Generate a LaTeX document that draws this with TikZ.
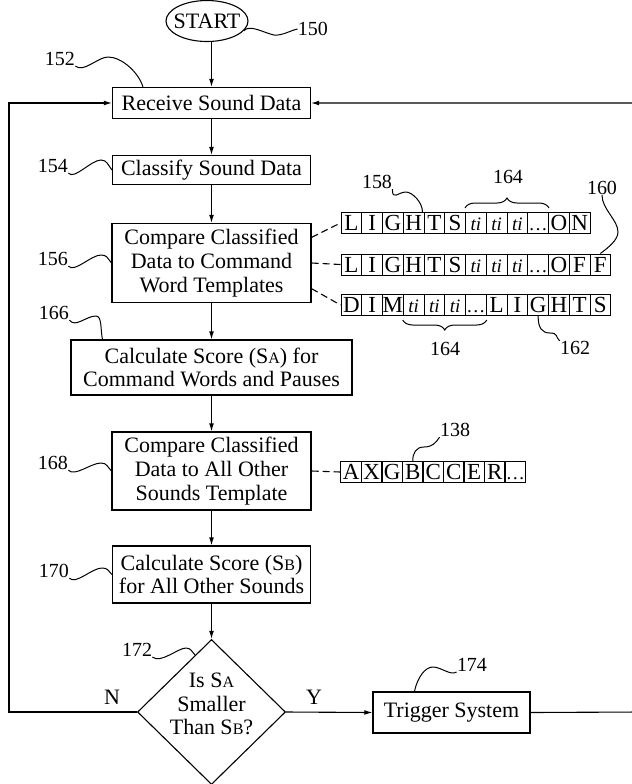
\documentclass[tikz,border=0pt]{standalone}
\usepackage{fontspec}
\setmainfont{Liberation Serif}
\usetikzlibrary{arrows.meta,positioning,shapes.geometric,decorations.pathreplacing,calc}
\newcommand{\tiMark}{{\fontsize{9.5}{9.5}\selectfont\itshape ti}}
\newcommand{\gapMark}{{\fontsize{9.5}{9.5}\selectfont\ldots}}
\newcommand{\subCap}[1]{{\fontsize{8}{8}\selectfont #1}}

\begin{document}
\begin{tikzpicture}[
        x=0.5pt,y=-0.5pt,
        every node/.style={font=\fontsize{11}{11.8}\selectfont},
        stepBox/.style={draw,line width=0.55pt,align=center,inner sep=0pt},
        cellBox/.style={draw,line width=0.5pt,minimum width=10.375pt,minimum height=10.5pt,inner sep=0pt,text height=7.6pt,text depth=0pt,font=\fontsize{11.5}{11.5}\selectfont},
        refNum/.style={inner sep=0pt,font=\fontsize{10}{10}\selectfont},
        flowEdge/.style={line width=0.55pt,-{Latex[length=4pt,width=2.4pt]}},
        dashEdge/.style={line width=0.55pt,dash pattern=on 3.5pt off 2pt},
        leadEdge/.style={line width=0.5pt},
        braceEdge/.style={line width=0.5pt,decorate,decoration={brace,amplitude=5pt,raise=2pt}}]
        \useasboundingbox (0,0) rectangle (632,784);
        \clip (0,0) rectangle (632,784);
        % flow chart column
        \node[draw,ellipse,line width=0.55pt,inner xsep=-3pt,inner ysep=1pt,minimum width=41pt,minimum height=20.5pt] (start) at (207,21) {START};
        \node[stepBox,minimum width=99pt,minimum height=15.5pt] (recv) at (211.5,103) {Receive Sound Data};
        \node[stepBox,minimum width=99pt,minimum height=14.5pt] (clsf) at (211.5,170) {Classify Sound Data};
        \node[stepBox,minimum width=99.5pt,minimum height=39.5pt] (cmpw) at (211.5,263) {Compare Classified\\Data to Command\\Word Templates};
        \node[stepBox,minimum width=140.5pt,minimum height=27.5pt] (scra) at (211.5,367.5) {Calculate Score (S\subCap{A}) for\\Command Words and Pauses};
        \node[stepBox,minimum width=99.5pt,minimum height=39pt] (cmpo) at (211.5,471) {Compare Classified\\Data to All Other\\Sounds Template};
        \node[stepBox,minimum width=99pt,minimum height=28.5pt] (scrb) at (211.5,574.5) {Calculate Score (S\subCap{B})\\for All Other Sounds};
        \node[draw,diamond,line width=0.55pt,inner sep=0pt,minimum width=74pt,minimum height=72.5pt] (dec) at (211.5,712) {};
        \node[align=center,inner sep=0pt] (decTxt) at (211.5,704) {Is S\subCap{A}\\Smaller\\Than S\subCap{B}?};
        \node[stepBox,minimum width=78.5pt,minimum height=20.5pt] (trig) at (451.5,712.5) {Trigger System};
        \node (nLbl) at (112,697) {N};
        \node (yLbl) at (314,697) {Y};
        \coordinate (lftTurn) at (9,712);
        \coordinate (rgtTurn) at (640,712);
        \draw[flowEdge] (recv.north |- start.south) -- (recv.north);
        \draw[flowEdge] (recv.south) -- (clsf.north);
        \draw[flowEdge] (clsf.south) -- (cmpw.north);
        \draw[flowEdge] (cmpw.south) -- (scra.north);
        \draw[flowEdge] (scra.south) -- (cmpo.north);
        \draw[flowEdge] (cmpo.south) -- (scrb.north);
        \draw[flowEdge] (scrb.south) -- (dec.north);
        \draw[flowEdge] (dec.east) -- (trig.west);
        \draw[flowEdge] (dec.west) -- (lftTurn) |- (recv.west);
        \draw[flowEdge] (trig.east) -- (rgtTurn) |- (recv.east);
        % template strings
        \foreach \c [count=\i] in {L,I,G,H,T,S,\tiMark,\tiMark,\tiMark,\gapMark,O,N}
          \node[cellBox] (a\i) at ({341+20.75*(\i-0.5)},223) {\c};
        \foreach \c [count=\i] in {L,I,G,H,T,S,\tiMark,\tiMark,\tiMark,\gapMark,O,F,F}
          \node[cellBox] (b\i) at ({341+20.75*(\i-0.5)},264.5) {\c};
        \foreach \c [count=\i] in {D,I,M,\tiMark,\tiMark,\tiMark,\gapMark,L,I,G,H,T,S}
          \node[cellBox] (c\i) at ({341+20.75*(\i-0.5)},305) {\c};
        \foreach \c [count=\i] in {A,X,G,B,C,C,E,R,\gapMark}
          \node[cellBox] (d\i) at ({341+20.5*(\i-0.5)},472) {\c};
        \draw[dashEdge] ($(cmpw.north east)!0.18!(cmpw.south east)$) -- (a1.west);
        \draw[dashEdge] (cmpw.east) -- (b1.west);
        \draw[dashEdge] ($(cmpw.north east)!0.82!(cmpw.south east)$) -- (c1.west);
        \draw[dashEdge] (cmpo.east) -- (d1.west);
        \draw[braceEdge] (a7.north west) -- (a10.north east);
        \draw[braceEdge] (c7.south east) -- (c4.south west);
        % reference numerals
        \node[refNum] (l150) at (313,29) {150};
        \node[refNum] (l152) at (60,59) {152};
        \node[refNum] (l154) at (53,166) {154};
        \node[refNum] (l156) at (53,259) {156};
        \node[refNum] (l158) at (377,182) {158};
        \node[refNum] (l164a) at (508,177) {164};
        \node[refNum] (l160) at (602,188) {160};
        \node[refNum] (l164b) at (445,349) {164};
        \node[refNum] (l162) at (575,348) {162};
        \node[refNum] (l166) at (54,313) {166};
        \node[refNum] (l168) at (53,463) {168};
        \node[refNum] (l138) at (455,430) {138};
        \node[refNum] (l170) at (54,571) {170};
        \node[refNum] (l172) at (137,650) {172};
        \node[refNum] (l174) at (472,665) {174};
        \draw[leadEdge] (start.-15) .. controls +(6,-7) and +(-10,-2) .. (274,35) .. controls +(8,1) and +(-6,1) .. (l150.west);
        \draw[leadEdge] (l152.south east) .. controls +(8,7) and +(-10,0) .. (108,57) .. controls +(14,0) and +(-4,-14) .. ($(recv.north west)+(31,0)$);
        \draw[leadEdge] (l154.south east) .. controls +(6,7) and +(-10,0) .. (101,160) .. controls +(6,0) and +(-4,-5) .. (clsf.west);
        \draw[leadEdge] (l156.south east) .. controls +(6,7) and +(-10,0) .. (101,255) .. controls +(6,0) and +(-4,-5) .. (cmpw.west);
        \draw[leadEdge] (l166.south east) .. controls +(6,8) and +(-10,0) .. (96,316) .. controls +(6,0) and +(-2,-10) .. ($(scra.north west)+(32,0)$);
        \draw[leadEdge] (l168.south east) .. controls +(6,7) and +(-10,0) .. (101,463) .. controls +(6,0) and +(-4,-4) .. (cmpo.west);
        \draw[leadEdge] (l170.south east) .. controls +(6,7) and +(-10,0) .. (102,568) .. controls +(6,0) and +(-4,-4) .. (scrb.west);
        \draw[leadEdge] (l172.south east) .. controls +(8,7) and +(-8,0) .. (186,648) .. controls +(5,0) and +(-3,-3) .. ($(dec.north)!0.22!(dec.west)$);
        \draw[leadEdge] ($(trig.north west)+(42,0)$) .. controls +(3,-14) and +(-8,0) .. (433,667) .. controls +(8,0) and +(-6,4) .. (l174.south west);
        \draw[leadEdge] (l158.south east) .. controls +(0,12) and +(-8,0) .. (406,192) .. controls +(6,0) and +(0,-10) .. ($(a4.north east)+(-2,0)$);
        \draw[leadEdge] (l160.south) .. controls +(0,14) and +(0,-12) .. (618,232) .. controls +(0,8) and +(8,-6) .. (b13.north);
        \draw[leadEdge] (c10.south) .. controls +(0,12) and +(-8,0) .. (550,333) .. controls +(8,0) and +(-4,-4) .. (l162.north west);
        \draw[leadEdge] (l138.south west) .. controls +(-4,6) and +(8,0) .. (424,447) .. controls +(-8,0) and +(0,-8) .. (d4.north);
      \end{tikzpicture}
\end{document}
